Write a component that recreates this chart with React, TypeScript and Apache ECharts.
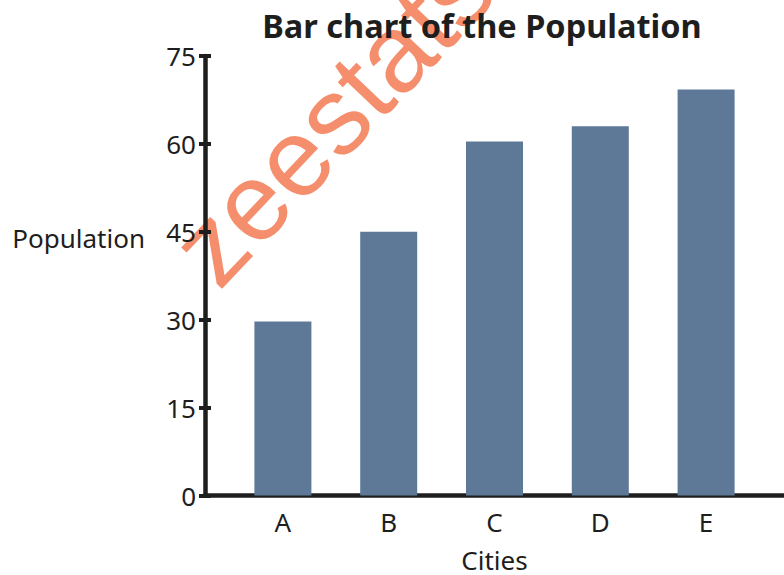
import React, { useEffect, useRef } from "react";
import * as echarts from "echarts";

const cities = ["A", "B", "C", "D", "E"];
const population = [29.7, 45, 60.4, 63, 69.3];
const yTicks = { min: 0, max: 75, interval: 15 };

const BAR_COLOR = "#5e7898";
const INK = "#1e1e1e";
const FONT = "'Noto Sans', 'DejaVu Sans', sans-serif";

export default function App() {
  const ref = useRef<HTMLDivElement>(null);

  useEffect(() => {
    if (!ref.current) return;
    const chart = echarts.init(ref.current, null, { renderer: "svg" });

    const gridBottom = 79.5;
    const gridTop = 56;

    chart.setOption({
      animation: false,
      backgroundColor: "#ffffff",
      title: {
        text: "Bar chart of the Population",
        left: 477,
        textAlign: "center",
        top: 4,
        textStyle: { fontFamily: FONT, fontWeight: "bold", fontSize: 32.5, color: INK },
      },
      grid: [
        // plotting area holding the bars
        { left: 230, right: 25, top: gridTop, bottom: gridBottom, outerBoundsMode: "none" },
        // frame: axis lines that run the full width
        { left: 205, right: 0, top: gridTop, bottom: gridBottom, outerBoundsMode: "none" },
      ],
      xAxis: [
        {
          type: "category",
          gridIndex: 0,
          data: cities,
          axisLine: { show: false },
          axisTick: { show: false },
          axisLabel: { fontFamily: FONT, fontSize: 26, color: INK, margin: 13 },
          name: "Cities",
          nameLocation: "middle",
          nameGap: 51,
          nameTextStyle: { fontFamily: FONT, fontSize: 26, color: INK },
        },
        {
          type: "value",
          gridIndex: 1,
          min: 0,
          max: 1,
          axisLine: { show: true, lineStyle: { color: INK, width: 4.5 } },
          axisTick: { show: false },
          axisLabel: { show: false },
          splitLine: { show: false },
        },
      ],
      yAxis: [
        {
          type: "value",
          gridIndex: 0,
          ...yTicks,
          offset: 25,
          axisLine: { show: false },
          axisTick: { show: true, length: 6, lineStyle: { color: INK, width: 4 } },
          axisLabel: { fontFamily: FONT, fontSize: 26, color: INK, margin: 9 },
          splitLine: { show: false },
        },
        {
          type: "value",
          gridIndex: 1,
          ...yTicks,
          axisLine: { show: true, lineStyle: { color: INK, width: 4.5 } },
          axisTick: { show: true, inside: true, length: 6, lineStyle: { color: INK, width: 4 } },
          axisLabel: { show: false },
          splitLine: { show: false },
        },
      ],
      series: [
        {
          type: "bar",
          xAxisIndex: 0,
          yAxisIndex: 0,
          data: population,
          barWidth: 57,
          itemStyle: { color: BAR_COLOR },
        },
      ],
      graphic: [
        // y-axis title, set level with the 45 tick
        {
          type: "text",
          x: 145,
          y: 238,
          style: {
            text: "Population",
            fontFamily: FONT,
            fontSize: 26,
            fill: INK,
            align: "right",
            verticalAlign: "middle",
          },
        },
        // diagonal watermark, kept beneath the axes and the title
        {
          type: "text",
          x: 332,
          y: 117,
          rotation: (46.5 * Math.PI) / 180,
          z: -100,
          style: {
            text: "zeestats",
            fontFamily: "'Liberation Sans', Arial, sans-serif",
            fontSize: 110,
            fill: "#f4845f",
            opacity: 0.92,
            align: "center",
            verticalAlign: "middle",
          },
        },
      ],
    });

    return () => chart.dispose();
  }, []);

  return (
    <div
      ref={ref}
      style={{ position: "absolute", left: 0, top: 0, width: 784, height: 575 }}
    />
  );
}
